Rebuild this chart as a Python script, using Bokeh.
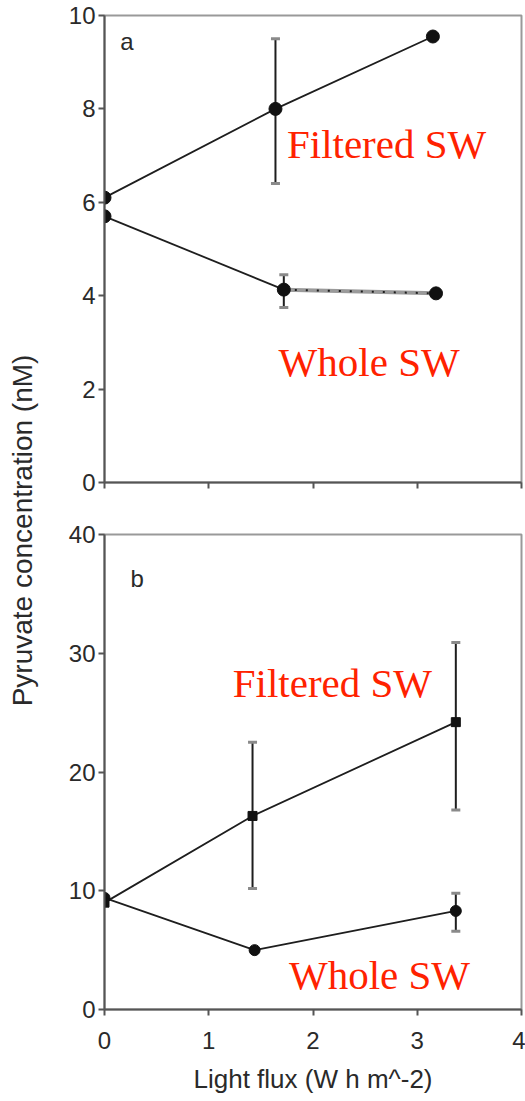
import math
from bokeh.plotting import figure
from bokeh.layouts import row, column
from bokeh.models import (ColumnDataSource, Whisker, TeeHead, Label, Range1d,
                          FixedTicker)
from bokeh.embed import file_html
from bokeh.resources import INLINE

# ---- panel a: pyruvate (nM) vs light flux ----
a_filtered_x = [0.0, 1.64, 3.15]
a_filtered_y = [6.1, 8.0, 9.55]
a_filtered_lo = [None, 6.4, None]
a_filtered_hi = [None, 9.5, None]

a_whole_x = [0.0, 1.72, 3.18]
a_whole_y = [5.7, 4.13, 4.05]
a_whole_lo = [None, 3.75, None]
a_whole_hi = [None, 4.45, None]

# ---- panel b ----
b_filtered_x = [0.0, 1.42, 3.37]
b_filtered_y = [9.0, 16.3, 24.2]
b_filtered_lo = [None, 10.2, 16.8]
b_filtered_hi = [None, 22.5, 30.9]

b_whole_x = [0.0, 1.44, 3.37]
b_whole_y = [9.4, 5.0, 8.3]
b_whole_lo = [None, None, 6.6]
b_whole_hi = [None, None, 9.8]

x_ticks = [0, 1, 2, 3, 4]
a_y_ticks = [0, 2, 4, 6, 8, 10]
b_y_ticks = [0, 10, 20, 30, 40]

FONT = "Liberation Sans"
SERIF = "Liberation Serif"
RED = "#ff2200"
INK = "#1e1e1e"
AXIS = "#555555"
TXT = "#2a2a2a"


def style(p, yticks):
    p.xgrid.visible = False
    p.ygrid.visible = False
    p.outline_line_color = "#999999"
    p.outline_line_width = 2
    for ax in (p.xaxis[0], p.yaxis[0]):
        ax.axis_line_color = AXIS
        ax.axis_line_width = 2
        ax.major_tick_line_color = AXIS
        ax.major_tick_line_width = 2
        ax.major_tick_out = 6
        ax.major_tick_in = 0
        ax.minor_tick_line_color = None
        ax.major_label_text_font = FONT
        ax.major_label_text_font_size = "24px"
        ax.major_label_text_color = TXT
    p.yaxis[0].ticker = FixedTicker(ticks=yticks)
    p.yaxis[0].major_label_standoff = 3
    p.xaxis[0].ticker = FixedTicker(ticks=x_ticks)


def errbars(p, xs, lo, hi):
    pts = [(x, l, h) for x, l, h in zip(xs, lo, hi) if l is not None]
    src = ColumnDataSource(dict(x=[t[0] for t in pts],
                                lower=[t[1] for t in pts],
                                upper=[t[2] for t in pts]))
    head = dict(size=9, line_color="#8a8a8a", line_width=3)
    p.add_layout(Whisker(source=src, base="x", lower="lower", upper="upper",
                         line_color=INK, line_width=2,
                         upper_head=TeeHead(**head), lower_head=TeeHead(**head)))


def tag(p, text, x, y, size="41px", font=SERIF, color=RED):
    p.add_layout(Label(x=x, y=y, text=text, text_font=font,
                       text_font_size=size, text_color=color,
                       text_baseline="alphabetic"))


# ---- top panel ----
top = figure(width=485, height=500, output_backend="svg", toolbar_location=None,
             x_range=Range1d(0, 4), y_range=Range1d(0, 10),
             min_border_left=64, min_border_right=4,
             min_border_top=15, min_border_bottom=18)
style(top, a_y_ticks)
# tick marks only on the upper panel's x axis
top.xaxis[0].major_label_text_color = None
top.xaxis[0].major_label_text_font_size = "1px"
top.xaxis[0].major_label_standoff = 0

errbars(top, a_filtered_x, a_filtered_lo, a_filtered_hi)
errbars(top, a_whole_x, a_whole_lo, a_whole_hi)
top.line(a_filtered_x, a_filtered_y, line_color=INK, line_width=1.8)
top.line(a_whole_x[:2], a_whole_y[:2], line_color=INK, line_width=1.8)
top.line(a_whole_x[1:], a_whole_y[1:], line_color="#9a9a9a", line_width=4)
top.line(a_whole_x[1:], a_whole_y[1:], line_color=INK, line_width=2,
         line_dash="2 9")
top.scatter(a_filtered_x, a_filtered_y, marker="circle", size=13,
            fill_color="#111111", line_color="#111111")
top.scatter(a_whole_x, a_whole_y, marker="circle", size=13,
            fill_color="#111111", line_color="#111111")

tag(top, "a", 0.15, 9.45, size="24px", font=FONT, color=TXT)
tag(top, "Filtered SW", 1.75, 7.25)
tag(top, "Whole SW", 1.67, 2.57)

# ---- bottom panel ----
bot = figure(width=485, height=601, output_backend="svg", toolbar_location=None,
             x_range=Range1d(0, 4), y_range=Range1d(0, 40),
             min_border_left=64, min_border_right=4,
             min_border_top=34, min_border_bottom=92)
style(bot, b_y_ticks)
bot.xaxis[0].major_label_standoff = 16
bot.xaxis[0].axis_label = "Light flux (W h m^-2)"
bot.xaxis[0].axis_label_text_font = FONT
bot.xaxis[0].axis_label_text_font_size = "26px"
bot.xaxis[0].axis_label_text_font_style = "normal"
bot.xaxis[0].axis_label_text_color = TXT
bot.xaxis[0].axis_label_standoff = 12

errbars(bot, b_filtered_x, b_filtered_lo, b_filtered_hi)
errbars(bot, b_whole_x, b_whole_lo, b_whole_hi)
bot.line(b_filtered_x, b_filtered_y, line_color=INK, line_width=1.8)
bot.line(b_whole_x, b_whole_y, line_color=INK, line_width=1.8)
bot.scatter(b_whole_x, b_whole_y, marker="circle", size=11,
            fill_color="#111111", line_color="#111111")
bot.scatter(b_filtered_x, b_filtered_y, marker="square", size=9,
            fill_color="#111111", line_color="#111111")

tag(bot, "b", 0.25, 36.3, size="24px", font=FONT, color=TXT)
tag(bot, "Filtered SW", 1.23, 27.5)
tag(bot, "Whole SW", 1.77, 2.9)

# ---- shared y-axis title ----
side = figure(width=40, height=1101, output_backend="svg", toolbar_location=None,
              x_range=Range1d(0, 40), y_range=Range1d(0, 1101),
              min_border=0)
side.axis.visible = False
side.grid.visible = False
side.outline_line_color = None
side.add_layout(Label(x=22, y=571, text="Pyruvate concentration (nM)",
                      angle=math.pi / 2, text_align="center",
                      text_baseline="middle", text_font=FONT,
                      text_font_size="28px", text_color=TXT))

p = row(side, column(top, bot, spacing=0), spacing=0)

open("out.html", "w").write(file_html(p, INLINE))
